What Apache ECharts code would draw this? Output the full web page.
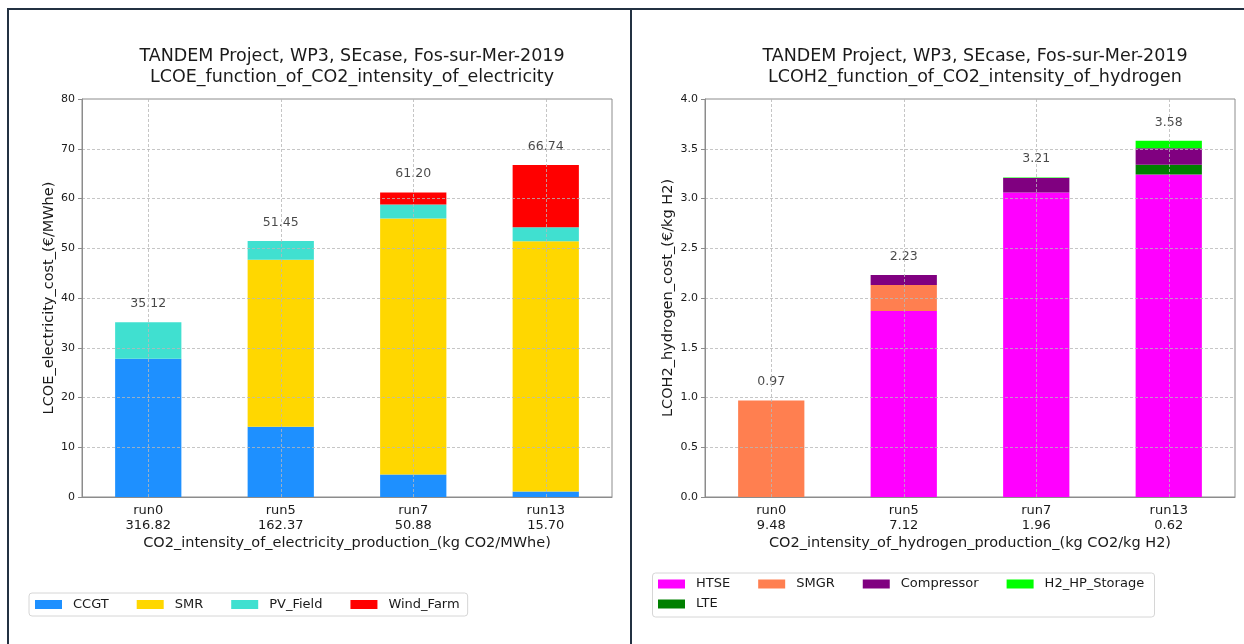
<!DOCTYPE html>
<html>
<head>
<meta charset="utf-8">
<title>TANDEM Project, WP3, SEcase, Fos-sur-Mer-2019</title>
<script src="https://cdn.jsdelivr.net/npm/echarts@6/dist/echarts.min.js"></script>
<style>
    html, body { margin: 0; padding: 0; background: #fff; }
    #wrap { position: relative; width: 1244px; height: 644px; overflow: hidden; }
    #frame { position: absolute; left: 7px; top: 8px; width: 1300px; height: 700px;
             border-left: 2px solid #233142; border-top: 2px solid #233142; }
    #divider { position: absolute; left: 630px; top: 8px; width: 2px; height: 700px; background: #233142; }
    #lcoe_charts { position: absolute; left: 0; top: 0; width: 1244px; height: 644px; }
</style>
</head>
<body>
<div id="wrap">
    <div id="frame"></div>
    <div id="divider"></div>
    <div id="lcoe_charts"></div>
</div>
<script>

// Data
// ------------------------------

var runs = ['run0', 'run5', 'run7', 'run13'];
var elecIntensity = ['316.82', '162.37', '50.88', '15.70'];
var h2Intensity = ['9.48', '7.12', '1.96', '0.62'];

// LCOE components (€/MWhe)
var ccgt = [27.8, 14.1, 4.5, 1.1];
var smr = [0, 33.6, 51.5, 50.3];
var pvField = [7.32, 3.75, 2.8, 2.8];
var windFarm = [0, 0, 2.4, 12.54];
var elecTotals = [35.12, 51.45, 61.20, 66.74];

// LCOH2 components (€/kg H2)
var htse = [0, 1.87, 3.06, 3.24];
var smgr = [0.97, 0.26, 0, 0];
var lte = [0, 0, 0, 0.10];
var compressor = [0, 0.10, 0.145, 0.165];
var h2Storage = [0, 0, 0.005, 0.075];
var h2Totals = [0.97, 2.23, 3.21, 3.58];

// Axis ticks
var elecTicks = [0, 10, 20, 30, 40, 50, 60, 70, 80];
var h2Ticks = [0, 0.5, 1.0, 1.5, 2.0, 2.5, 3.0, 3.5, 4.0];


// Setup
// ------------------------------

var FONT = "'DejaVu Sans', sans-serif";
var TEXT = '#1a1a1a';
var SPINE = '#8c8c8c';
var GRID = '#b8b8b8';

var element = document.getElementById('lcoe_charts');
var chart = echarts.init(element, null, { renderer: 'canvas' });

var barSeries = function(name, color, data, idx) {
    return {
        name: name,
        type: 'bar',
        stack: 'stack' + idx,
        xAxisIndex: idx,
        yAxisIndex: idx,
        barWidth: '50%',
        data: data,
        itemStyle: { color: color },
        animation: false
    };
};

// totals above bars, plus vertical grid lines drawn over the bars
var totalSeries = function(totals, idx) {
    return {
        type: 'scatter',
        xAxisIndex: idx,
        yAxisIndex: idx,
        symbolSize: 0,
        z: 4,
        silent: true,
        animation: false,
        data: totals,
        label: {
            show: true,
            position: 'top',
            distance: 12,
            fontFamily: FONT,
            fontSize: 12.5,
            color: TEXT,
            formatter: function(p) { return totals[p.dataIndex].toFixed(2); }
        },
        markLine: {
            silent: true,
            symbol: ['none', 'none'],
            label: { show: false },
            animation: false,
            lineStyle: { color: GRID, type: [3, 2], width: 0.8 },
            data: runs.map(function(r) { return { xAxis: r }; })
        }
    };
};

var xAxisFor = function(idx, intensity, name) {
    return {
        type: 'category',
        gridIndex: idx,
        data: runs,
        axisLine: { lineStyle: { color: SPINE } },
        axisTick: { alignWithLabel: true, length: 4, lineStyle: { color: SPINE } },
        axisLabel: {
            fontFamily: FONT, fontSize: 13, color: TEXT, margin: 6, lineHeight: 15,
            formatter: function(v, i) { return v + '\n' + intensity[i]; }
        },
        splitLine: { show: false },
        name: name,
        nameLocation: 'middle',
        nameGap: 39,
        nameMoveOverlap: false,
        nameTextStyle: { fontFamily: FONT, fontSize: 14.5, color: TEXT }
    };
};

var yAxisFor = function(idx, ticks, digits, name, gap) {
    return {
        type: 'value',
        gridIndex: idx,
        min: ticks[0],
        max: ticks[ticks.length - 1],
        interval: ticks[1] - ticks[0],
        z: 3,
        axisLine: { show: true, lineStyle: { color: SPINE } },
        axisTick: { show: true, length: 4, lineStyle: { color: SPINE } },
        axisLabel: {
            fontFamily: FONT, fontSize: 11, color: TEXT, margin: 7,
            formatter: function(v) { return v.toFixed(digits); }
        },
        splitLine: {
            show: true,
            showMinLine: false,
            showMaxLine: false,
            lineStyle: { color: GRID, type: [3, 2], width: 0.8 }
        },
        name: name,
        nameLocation: 'middle',
        nameGap: gap,
        nameTextStyle: { fontFamily: FONT, fontSize: 14.5, color: TEXT }
    };
};

var titleFor = function(x, line2) {
    return {
        text: 'TANDEM Project, WP3, SEcase, Fos-sur-Mer-2019\n' + line2,
        left: x,
        top: 41,
        textAlign: 'center',
        textStyle: { fontFamily: FONT, fontSize: 17.5, fontWeight: 'normal', color: '#1a1a1a', lineHeight: 21 }
    };
};

var legendText = { fontFamily: FONT, fontSize: 13, color: TEXT, padding: [0, 0, 0, 6] };

chart.setOption({
    animation: false,
    textStyle: { fontFamily: FONT },

    title: [
        titleFor(347, 'LCOE_function_of_CO2_intensity_of_electricity'),
        titleFor(970, 'LCOH2_function_of_CO2_intensity_of_hydrogen')
    ],

    grid: [
        { left: 82, top: 99, width: 530, height: 398, show: true, borderColor: SPINE, borderWidth: 1, backgroundColor: 'transparent' },
        { left: 705, top: 99, width: 530, height: 398, show: true, borderColor: SPINE, borderWidth: 1, backgroundColor: 'transparent' }
    ],

    legend: [
        {
            data: ['CCGT', 'SMR', 'PV_Field', 'Wind_Farm'],
            left: 29, top: 593,
            padding: [5, 8, 5, 6],
            itemWidth: 27, itemHeight: 9, itemGap: 28,
            borderColor: '#d6d6d6', borderWidth: 1, borderRadius: 3,
            backgroundColor: '#fff',
            icon: 'rect',
            selectedMode: false,
            textStyle: legendText
        },
        {
            data: ['HTSE', 'SMGR', 'Compressor', 'H2_HP_Storage'],
            left: 658, top: 577.5,
            padding: 0,
            itemWidth: 27, itemHeight: 9, itemGap: 28,
            icon: 'rect',
            selectedMode: false,
            textStyle: legendText
        },
        {
            data: ['LTE'],
            left: 658, top: 597.5,
            padding: 0,
            itemWidth: 27, itemHeight: 9,
            icon: 'rect',
            selectedMode: false,
            textStyle: legendText
        }
    ],

    graphic: [{
        type: 'rect',
        z: -1,
        shape: { x: 652.5, y: 573, width: 502, height: 44, r: 3 },
        style: { fill: '#fff', stroke: '#d6d6d6', lineWidth: 1 }
    }],

    xAxis: [
        xAxisFor(0, elecIntensity, 'CO2_intensity_of_electricity_production_(kg CO2/MWhe)'),
        xAxisFor(1, h2Intensity, 'CO2_intensity_of_hydrogen_production_(kg CO2/kg H2)')
    ],

    yAxis: [
        yAxisFor(0, elecTicks, 0, 'LCOE_electricity_cost_(€/MWhe)', 25),
        yAxisFor(1, h2Ticks, 1, 'LCOH2_hydrogen_cost_(€/kg H2)', 29)
    ],

    series: [
        barSeries('CCGT', '#1E90FF', ccgt, 0),
        barSeries('SMR', '#FFD700', smr, 0),
        barSeries('PV_Field', '#40E0D0', pvField, 0),
        barSeries('Wind_Farm', '#FF0000', windFarm, 0),
        totalSeries(elecTotals, 0),

        barSeries('HTSE', '#FF00FF', htse, 1),
        barSeries('SMGR', '#FF7F50', smgr, 1),
        barSeries('LTE', '#008000', lte, 1),
        barSeries('Compressor', '#800080', compressor, 1),
        barSeries('H2_HP_Storage', '#00FF00', h2Storage, 1),
        totalSeries(h2Totals, 1)
    ]
});

// Resize
window.addEventListener('resize', function() {
    chart.resize();
});

</script>
</body>
</html>
